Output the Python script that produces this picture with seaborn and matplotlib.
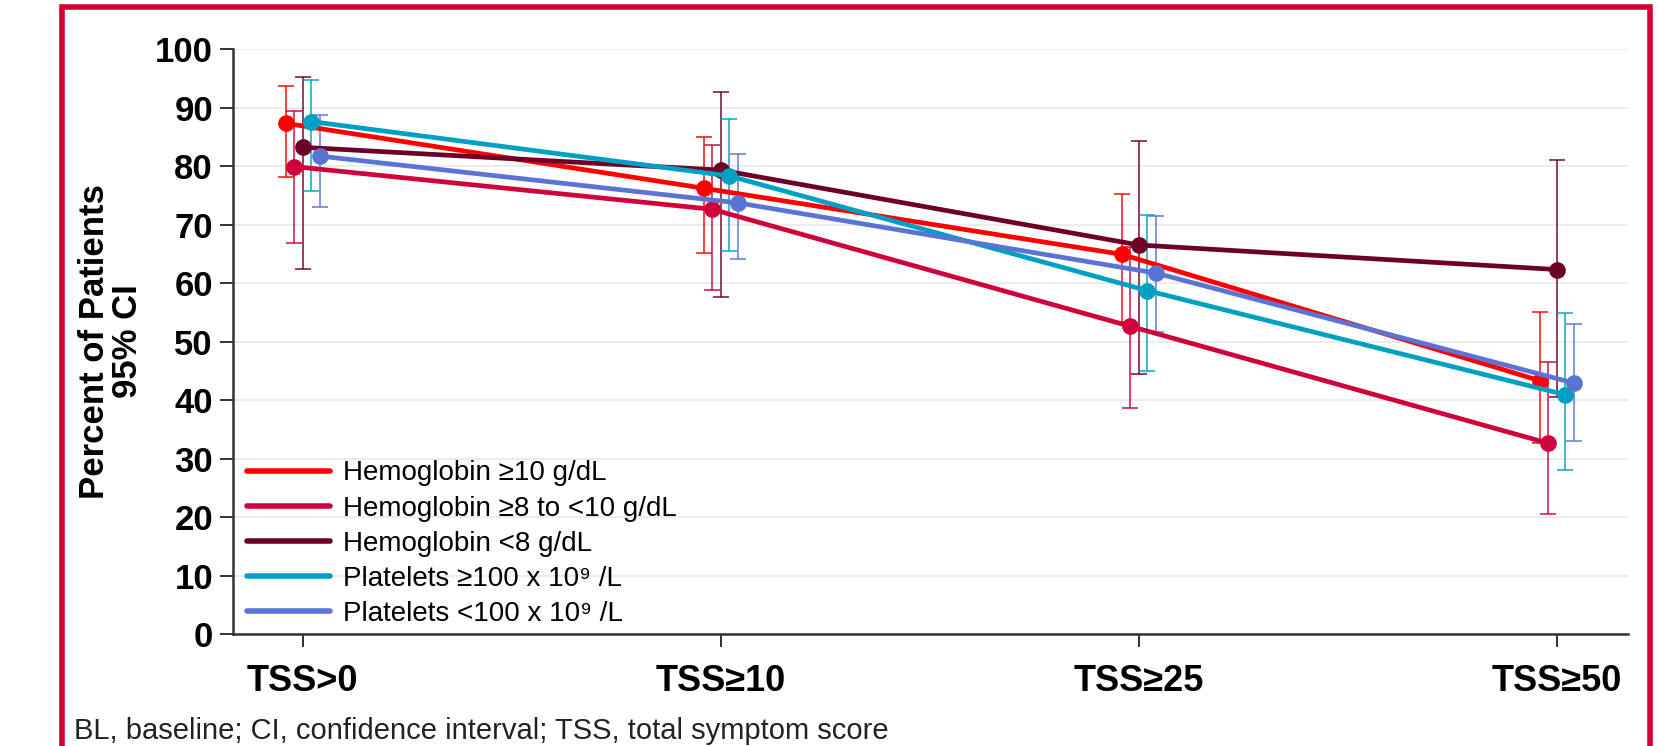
import matplotlib
matplotlib.use("Agg")
import matplotlib.pyplot as plt
from matplotlib.patches import Rectangle
import numpy as np
import pandas as pd
import seaborn as sns

CATEGORIES = ["TSS>0", "TSS≥10", "TSS≥25", "TSS≥50"]
GROUPS = [
    "Hemoglobin ≥10 g/dL",
    "Hemoglobin ≥8 to <10 g/dL",
    "Hemoglobin <8 g/dL",
    "Platelets ≥100 x 10⁹ /L",
    "Platelets <100 x 10⁹ /L",
]
COLORS = ["#FF0000", "#D0023C", "#6D0027", "#00A0C4", "#5A74D4"]

# percent of patients and 95% CI per group, one value per TSS category
HB10_PCT = [87.3, 76.2, 64.9, 43.3]
HB10_LO = [78.1, 65.2, 53.3, 32.6]
HB10_HI = [93.7, 84.9, 75.2, 55.1]

HB8_PCT = [79.9, 72.6, 52.6, 32.6]
HB8_LO = [66.9, 58.8, 38.6, 20.5]
HB8_HI = [89.4, 83.6, 66.2, 46.5]

HBLT8_PCT = [83.2, 79.3, 66.5, 62.3]
HBLT8_LO = [62.4, 57.6, 44.5, 40.5]
HBLT8_HI = [95.3, 92.7, 84.2, 81.0]

PLT100_PCT = [87.6, 78.3, 58.7, 40.9]
PLT100_LO = [75.8, 65.4, 44.9, 28.0]
PLT100_HI = [94.7, 88.1, 71.7, 54.9]

PLTLT100_PCT = [81.7, 73.7, 61.7, 42.9]
PLTLT100_LO = [73.0, 64.1, 51.6, 33.0]
PLTLT100_HI = [88.8, 82.1, 71.4, 53.0]

FOOTNOTE = "BL, baseline; CI, confidence interval; TSS, total symptom score"

SERIES = [
    (HB10_PCT, HB10_LO, HB10_HI),
    (HB8_PCT, HB8_LO, HB8_HI),
    (HBLT8_PCT, HBLT8_LO, HBLT8_HI),
    (PLT100_PCT, PLT100_LO, PLT100_HI),
    (PLTLT100_PCT, PLTLT100_LO, PLTLT100_HI),
]
STEP = 0.0203  # dodge between groups

sns.set_style("white")
plt.rcParams["font.family"] = ["Liberation Sans", "DejaVu Sans"]
plt.rcParams["text.color"] = "black"

rows = []
for g, (name, (pct, lo, hi)) in enumerate(zip(GROUPS, SERIES)):
    for i in range(len(CATEGORIES)):
        rows.append({"group": name, "x": i + (g - 2) * STEP,
                     "pct": pct[i], "lo": lo[i], "hi": hi[i]})
df = pd.DataFrame(rows)

fig = plt.figure(figsize=(16.59, 7.46), dpi=100)
ax = fig.add_axes([0.1404, 0.1501, 0.8409, 0.7842])

for name, color in zip(GROUPS, COLORS):
    d = df[df["group"] == name]
    ax.errorbar(d["x"], d["pct"], yerr=[d["pct"] - d["lo"], d["hi"] - d["pct"]],
                fmt="none", ecolor=color, elinewidth=1.4, capsize=6,
                capthick=1.4, alpha=0.75, zorder=2)

sns.lineplot(data=df, x="x", y="pct", hue="group", hue_order=GROUPS,
             palette=COLORS, marker="o", markersize=12, markeredgewidth=0,
             linewidth=3.4, errorbar=None, sort=False, ax=ax, zorder=3)

ax.set_xlim(-0.167, 3.17)
ax.set_ylim(0, 100)
ax.set_xticks(range(len(CATEGORIES)))
ax.set_xticklabels(CATEGORIES, fontsize=26, fontweight="bold", color="black")
ax.set_yticks(range(0, 101, 10))
ax.set_yticklabels([str(v) for v in range(0, 101, 10)], fontsize=25,
                   fontweight="bold", color="black")
ax.tick_params(axis="both", left=True, bottom=True, length=9.4, width=1.3,
               color="#222222")
ax.tick_params(axis="y", pad=5)
ax.tick_params(axis="x", pad=12)
ax.set_xlabel("")
ax.set_ylabel("Percent of Patients\n95% CI", fontsize=25, fontweight="bold",
              labelpad=8, linespacing=1.0, color="black")
ax.yaxis.grid(True, color="#EBEBEB", linewidth=1.3)
ax.set_axisbelow(True)
for s in ["top", "right"]:
    ax.spines[s].set_visible(False)
for s in ["left", "bottom"]:
    ax.spines[s].set_color("#333333")
    ax.spines[s].set_linewidth(1.8)

leg = ax.legend(loc="lower left", bbox_to_anchor=(0.005, 0.0), frameon=False,
                fontsize=20, handlelength=3.0, labelspacing=0.33, borderpad=0.1,
                borderaxespad=0.15, handletextpad=0.45)
for h in leg.get_lines():
    h.set_marker("")
    h.set_linewidth(4)

fig.text(74 / 1659, 0.002, FOOTNOTE, fontsize=21, va="bottom", color="#222222")

fig.patches.append(Rectangle((62 / 1659, -0.05), (1650 - 62) / 1659, 1.05 - 7.5 / 746,
                             transform=fig.transFigure, fill=False,
                             edgecolor="#D50032", linewidth=4))

fig.savefig("out.png", dpi=100)
